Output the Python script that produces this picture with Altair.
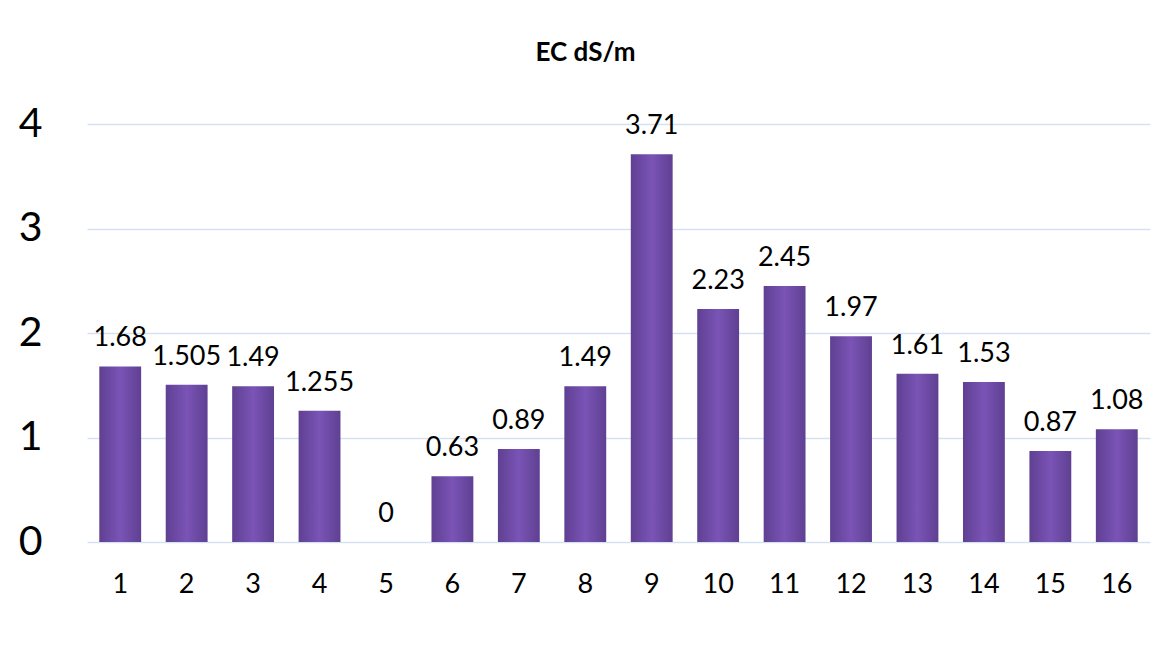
import altair as alt
import pandas as pd

categories = [str(i) for i in range(1, 17)]
values = [1.68, 1.505, 1.49, 1.255, 0, 0.63, 0.89, 1.49, 3.71, 2.23, 2.45, 1.97, 1.61, 1.53, 0.87, 1.08]
labels = ["1.68", "1.505", "1.49", "1.255", "0", "0.63", "0.89", "1.49", "3.71", "2.23", "2.45", "1.97", "1.61", "1.53", "0.87", "1.08"]
y_ticks = [0, 1, 2, 3, 4]

df = pd.DataFrame({"cat": categories, "val": values, "lab": labels})

FONT = "Lato"

x = alt.X("cat:N", sort=categories, title=None,
          scale=alt.Scale(paddingInner=0.37, paddingOuter=0.185),
          axis=alt.Axis(labelAngle=0, labelFontSize=27, labelFont=FONT, labelColor="#000000",
                        labelPadding=29, ticks=False, domain=False, grid=False))
y = alt.Y("val:Q", title=None,
          scale=alt.Scale(domain=[0, 4], nice=False),
          axis=alt.Axis(values=y_ticks, format="d", labelFontSize=41, labelFont=FONT,
                        labelColor="#000000", labelPadding=45, ticks=False, domain=False,
                        grid=True, gridColor="#d5e1f1", gridWidth=1.3))

bars = alt.Chart(df).mark_bar(
    color=alt.Gradient(
        gradient="linear", x1=0, x2=1, y1=0, y2=0,
        stops=[alt.GradientStop(offset=0, color="#5f4092"),
               alt.GradientStop(offset=0.5, color="#7a54b6"),
               alt.GradientStop(offset=1, color="#5f4092")]
    )
).encode(x=x, y=y)

text = alt.Chart(df).mark_text(
    fontSize=27, font=FONT, color="#000000", baseline="alphabetic", dy=-20
).encode(x=alt.X("cat:N", sort=categories), y=alt.Y("val:Q"), text="lab:N")

chart = alt.layer(bars, text).properties(
    width=1063, height=418,
    background="#ffffff",
    title=alt.TitleParams("EC dS/m", fontSize=26, font=FONT, fontWeight="bold",
                          color="#000000", frame="group", anchor="middle",
                          dx=-33, offset=16, baseline="alphabetic"),
    autosize=alt.AutoSizeParams(type="none"),
    padding={"left": 87, "top": 124, "right": 13, "bottom": 113},
).configure_view(
    strokeWidth=0
).configure_axis(
    domain=False, ticks=False
).configure_axisX(
    grid=False
)

chart.save("out.html", embed_options={"renderer": "svg", "actions": False})
